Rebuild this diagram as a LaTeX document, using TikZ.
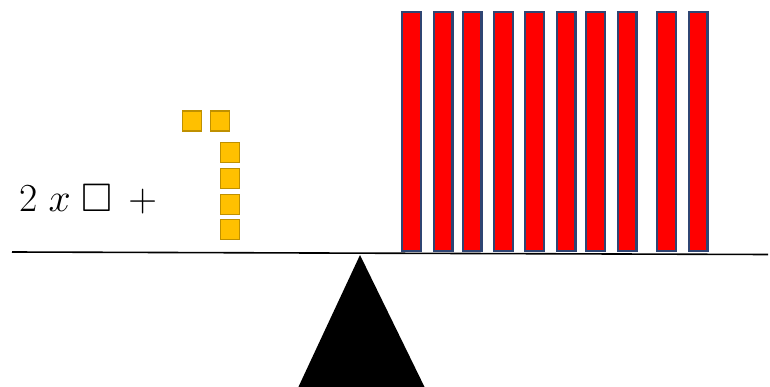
\documentclass[tikz,border=0pt]{standalone}
\usepackage{amssymb}
\usepackage{graphicx}
\usepackage{tikz}
\usetikzlibrary{shapes, positioning, calc}
\definecolor{unityellow}{RGB}{255, 192, 0}
\definecolor{unitgold}{RGB}{191, 144, 0}
\definecolor{barred}{RGB}{255, 0, 0}
\definecolor{barblue}{RGB}{47, 69, 115}

\begin{document}
\begin{tikzpicture}[
  x=1pt, y=-1pt,
  unitsq/.style={rectangle, draw=unitgold, fill=unityellow, line width=1.2pt,
                 minimum width=19pt, minimum height=20pt, inner sep=0pt},
  tenbar/.style={rectangle, draw=barblue, fill=barred, line width=2.2pt,
                 minimum width=18.8pt, minimum height=238.8pt, inner sep=0pt},
  beam/.style={line width=1.6pt, black}
]
  \useasboundingbox (0,0) rectangle (770,387);
  % fulcrum and beam
  \coordinate (beamL) at (12,252);
  \coordinate (beamR) at (768,254.5);
  \coordinate (apex) at (360,255);
  \coordinate (baseL) at (297,390);
  \coordinate (baseR) at (426,390);
  \fill[black] (apex) -- (baseL) -- (baseR) -- cycle;
  \draw[beam] (beamL) -- (beamR);
  % left pan
  \node[anchor=base west, inner sep=0pt, font=\Huge] (expr) at (19,212)
    {\scalebox{1.6}{$2\hspace{0.28em}x\hspace{0.27em}\square\hspace{0.4em}+$}};
  \node[unitsq] (u1) at (192,121) {};
  \node[unitsq] (u2) at (220,121) {};
  \foreach \y [count=\i from 3] in {152.5, 178.5, 204.5, 229.5}
    \node[unitsq] (u\i) at (230,\y) {};
  % right pan
  \foreach \x [count=\i] in {411.5, 443, 472, 503.5, 534.5, 566, 595.5, 627, 666.5, 698}
    \node[tenbar] (bar\i) at (\x,131.5) {};
\end{tikzpicture}
\end{document}
